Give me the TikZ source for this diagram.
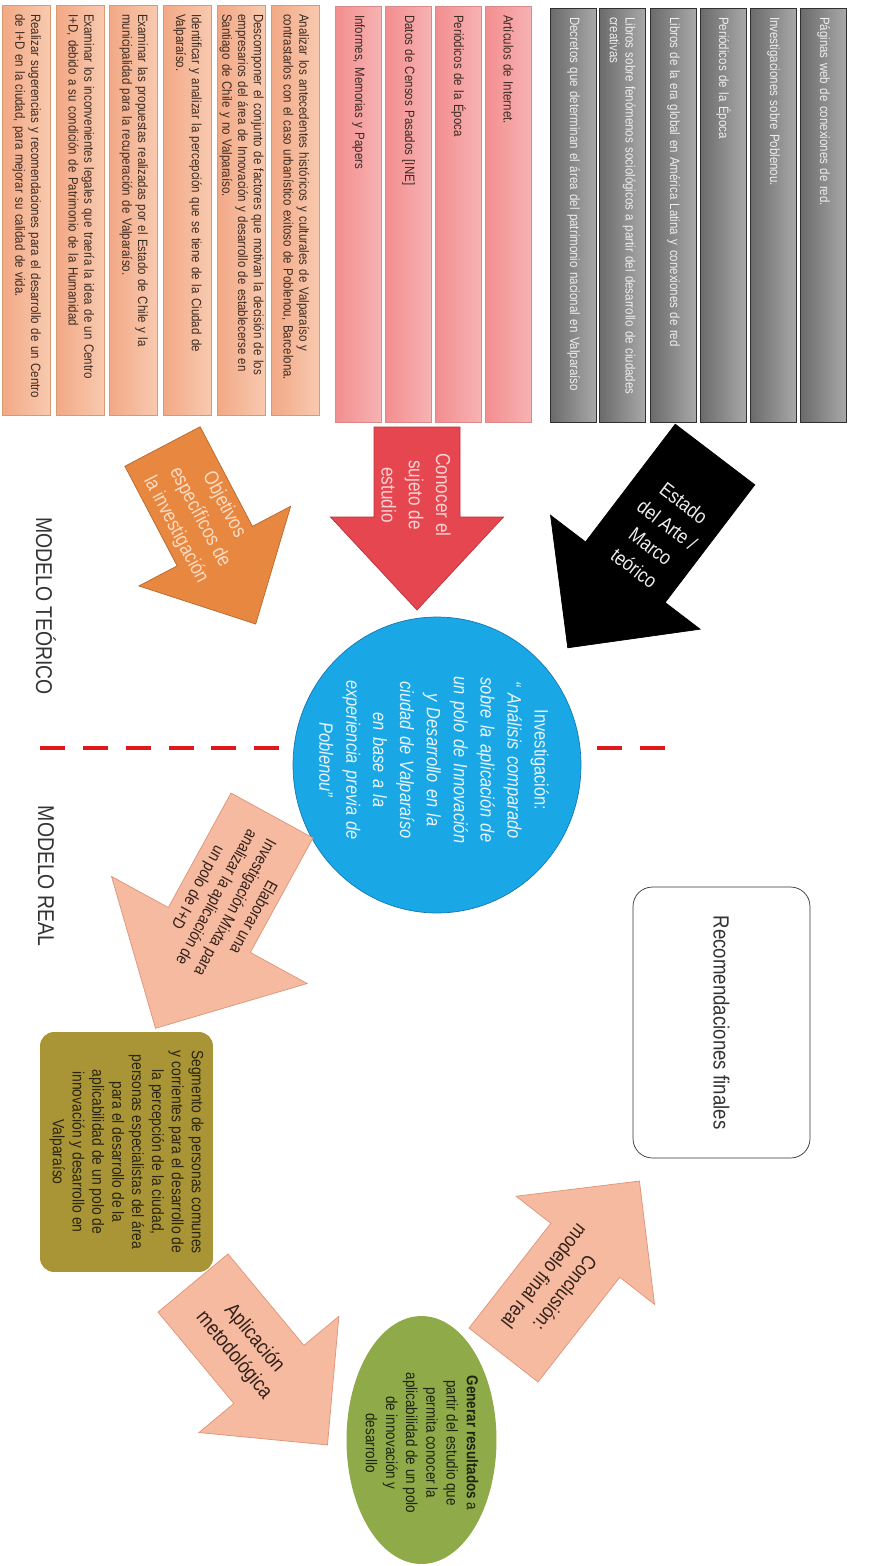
\documentclass[tikz,border=0pt]{standalone}
\usepackage{fontspec}
\setmainfont{Liberation Sans}[FakeStretch=0.85]
\usetikzlibrary{shapes.geometric}

\definecolor{objlight}{HTML}{F8CAB0}
\definecolor{objdark}{HTML}{F2A986}
\definecolor{objline}{HTML}{D89A72}
\definecolor{objtext}{HTML}{3B2B22}
\definecolor{pinklight}{HTML}{F7B3B3}
\definecolor{pinkdark}{HTML}{F38E90}
\definecolor{pinkline}{HTML}{D88A8C}
\definecolor{graylight}{HTML}{A9A9A9}
\definecolor{graydark}{HTML}{6B6B6B}
\definecolor{grayline}{HTML}{303030}
\definecolor{graytext}{HTML}{EEEEEE}
\definecolor{objarrowfill}{HTML}{E8873F}
\definecolor{objarrowline}{HTML}{B5682E}
\definecolor{objarrowtext}{HTML}{FBDCC4}
\definecolor{redfill}{HTML}{E6464F}
\definecolor{redline}{HTML}{B7343B}
\definecolor{redtext}{HTML}{F9D3D3}
\definecolor{bluefill}{HTML}{19A7E6}
\definecolor{blueline}{HTML}{1479B2}
\definecolor{bluetext}{HTML}{E8F5FC}
\definecolor{salmonfill}{HTML}{F5BA9F}
\definecolor{salmonline}{HTML}{DE9478}
\definecolor{salmontext}{HTML}{33211B}
\definecolor{olivefill}{HTML}{A99536}
\definecolor{olivetext}{HTML}{2A2410}
\definecolor{greenfill}{HTML}{8FAA48}
\definecolor{greentext}{HTML}{1E2410}
\definecolor{dashred}{HTML}{E0181C}
\definecolor{modeltext}{HTML}{333333}

% block arrow: style, tail middle, angle, shaft half width, head base, head half width, length
\newcommand{\blockarrow}[7]{%
  \draw[#1, shift={#2}, rotate=#3] (0,-#4) -- (#5,-#4) -- (#5,-#6) -- (#7,0)
    -- (#5,#6) -- (#5,#4) -- (0,#4) -- cycle;}

\begin{document}
\begin{tikzpicture}[x=0.02cm, y=0.02cm, line join=miter,
    col/.style={rotate=-90, anchor=north west, align=left, inner xsep=5pt, inner ysep=0pt,
      font=\fontsize{7.7}{9}\selectfont},
    objcol/.style={col, draw=objline, left color=objdark, right color=objlight, text=objtext,
      minimum width=8.2cm, minimum height=0.96cm, text width=7.85cm},
    pinkcol/.style={col, draw=pinkline, left color=pinkdark, right color=pinklight, text=objtext,
      minimum width=8.32cm, minimum height=0.92cm, text width=7.97cm},
    graycol/.style={col, draw=grayline, left color=graydark, right color=graylight, text=graytext,
      minimum width=8.28cm, minimum height=0.92cm, text width=7.93cm},
    objarrow/.style={fill=objarrowfill, draw=objarrowline, thin},
    redarrow/.style={fill=redfill, draw=redline, thin},
    artearrow/.style={fill=black, draw=black, thin},
    realarrow/.style={fill=salmonfill, draw=salmonline, thin},
    arrowtxt/.style={align=center, inner sep=0pt, font=\fontsize{11.5}{15.5}\selectfont},
    realtxt/.style={arrowtxt, text=salmontext},
    modelo/.style={rotate=-90, text=modeltext, font=\fontsize{13}{15}\selectfont},
    sepline/.style={dashred, line width=2.8pt, dash pattern=on 14.2pt off 10.2pt}]

\fill[white] (0,0) rectangle (881,-1566);
\useasboundingbox (0,0) rectangle (881,-1566);

% objetivos especificos
\node[objcol] (o1) at (51,-5) {Realizar sugerencias y recomendaciones para el desarrollo de un Centro\\de I+D en la ciudad, para mejorar su calidad de vida.};
\node[objcol] (o2) at (105,-5) {Examinar los inconvenientes legales que traería la idea de un Centro\\I+D, debido a su condición de Patrimonio de la Humanidad};
\node[objcol] (o3) at (158,-5) {Examinar las propuestas realizadas por el Estado de Chile y la\\municipalidad para la recuperación de Valparaíso.};
\node[objcol] (o4) at (212,-5) {Identificar y analizar la percepción que se tiene de la Ciudad de\\Valparaíso.};
\node[objcol] (o5) at (266,-5) {Descomponer el conjunto de factores que motivan la decisión de los\\empresarios del área de Innovación y desarrollo de establecerse en\\Santiago de Chile y no Valparaíso.};
\node[objcol] (o6) at (320,-5) {Analizar los antecedentes históricos y culturales de Valparaíso y\\contrastarlos con el caso urbanístico exitoso de Poblenou, Barcelona.};

% fuentes del sujeto de estudio
\node[pinkcol] (p1) at (382,-6) {Informes, Memorias y Papers};
\node[pinkcol] (p2) at (432,-6) {Datos de Censos Pasados [INE]};
\node[pinkcol] (p3) at (482,-6) {Periódicos de la Época};
\node[pinkcol] (p4) at (532,-6) {Artículos de Internet.};

% estado del arte
\node[graycol] (g1) at (597,-8) {Decretos que determinan el área del patrimonio nacional en Valparaíso};
\node[graycol] (g2) at (646,-8) {Libros sobre fenómenos sociológicos a partir del desarrollo de ciudades\\creativas};
\node[graycol] (g3) at (697,-8) {Libros de la era global en América Latina y conexiones de red};
\node[graycol] (g4) at (747,-8) {Periódicos de la Época};
\node[graycol] (g5) at (797,-8) {Investigaciones sobre Poblenou.};
\node[graycol] (g6) at (847,-8) {Páginas web de conexiones de red.};

% teorico / real
\coordinate (sepL) at (40,-748);
\coordinate (sepR) at (677,-748);
\draw[sepline] (sepL) -- (sepR);
\node[modelo] (mteo) at (46,-606) {MODELO TEÓRICO};
\node[modelo] (mreal) at (46,-876) {MODELO REAL};

% flechas de entrada
\blockarrow{objarrow}{(162.5,-446.5)}{-62.3}{42.5}{112.5}{85.7}{200.5}
\blockarrow{redarrow}{(417,-427)}{-90}{43}{90}{86.5}{183}
\blockarrow{artearrow}{(715,-454.5)}{-127.3}{50}{148}{94}{243}
\node[arrowtxt, text=objarrowtext, rotate=-62.3] (objetivos) at (199.7,-517.3) {Objetivos\\específicos de\\la investigación};
\node[arrowtxt, text=redtext, rotate=-90] (conocer) at (416,-495) {Conocer el\\sujeto de\\estudio};
\node[arrowtxt, text=graytext, rotate=-37.3] (estado) at (659,-535.5) {Estado\\del Arte /\\Marco\\teórico};

% investigacion
\node[ellipse, fill=bluefill, draw=blueline, minimum width=5.76cm, minimum height=5.92cm, inner sep=0pt] (inv) at (437,-765) {};
\node[rotate=-90, align=center, text width=3.7cm, inner sep=0pt, text=bluetext,
  font=\fontsize{11}{15.3}\selectfont] (invtxt) at (434,-760)
  {Investigación:\\\itshape “ Análisis comparado\\sobre la aplicación de\\un polo de Innovación\\y Desarrollo en la\\ciudad de Valparaíso\\en base a la\\experiencia previa de\\Poblenou”};

% modelo real
\blockarrow{realarrow}{(272,-815.5)}{-118.7}{46.75}{130.5}{111.5}{242.6}
\node[realtxt, rotate=-118.7, font=\fontsize{9.5}{12}\selectfont] (elaborar) at (225,-902) {Elaborar una\\Investigación Mixta para\\analizar la aplicación de\\un polo de I+D};

\node[rounded corners=8pt, fill=olivefill, rotate=-90, minimum width=4.8cm, minimum height=3.46cm,
  align=center, text=olivetext, font=\fontsize{9.3}{11.3}\selectfont] (segmento) at (126.5,-1152)
  {Segmento de personas comunes\\y corrientes para el desarrollo de\\la percepción de la ciudad,\\personas especialistas del área\\para el desarrollo de la\\aplicabilidad de un polo de\\innovación y desarrollo en\\Valparaíso};

\blockarrow{realarrow}{(193,-1283)}{-50.3}{45.5}{118.8}{91}{210.5}
\node[realtxt, rotate=-50.3, font=\fontsize{12}{15}\selectfont] (aplicacion) at (244,-1347) {Aplicación\\metodológica};

\node[ellipse, fill=greenfill, minimum width=3.0cm, minimum height=4.96cm, inner sep=0pt] (result) at (421.5,-1440) {};
\node[rotate=-90, align=center, inner sep=0pt, text=greentext, font=\fontsize{9}{11.5}\selectfont] (resulttxt) at (422,-1443)
  {\textbf{Generar resultados} a\\partir del estudio que\\permita conocer la\\aplicabilidad de un polo\\de innovación y\\desarrollo};

\blockarrow{realarrow}{(503.5,-1355)}{52}{43.8}{132.9}{87.8}{220.8}
\node[realtxt, rotate=-128, font=\fontsize{11.5}{15}\selectfont] (conclusion) at (555,-1285) {Conclusión:\\modelo final real};

\node[draw=modeltext, rounded corners=11pt, rotate=-90, minimum width=5.42cm, minimum height=3.54cm,
  text=modeltext, font=\fontsize{12.5}{15}\selectfont] (recom) at (721.5,-1022.5) {Recomendaciones finales};
\end{tikzpicture}
\end{document}
